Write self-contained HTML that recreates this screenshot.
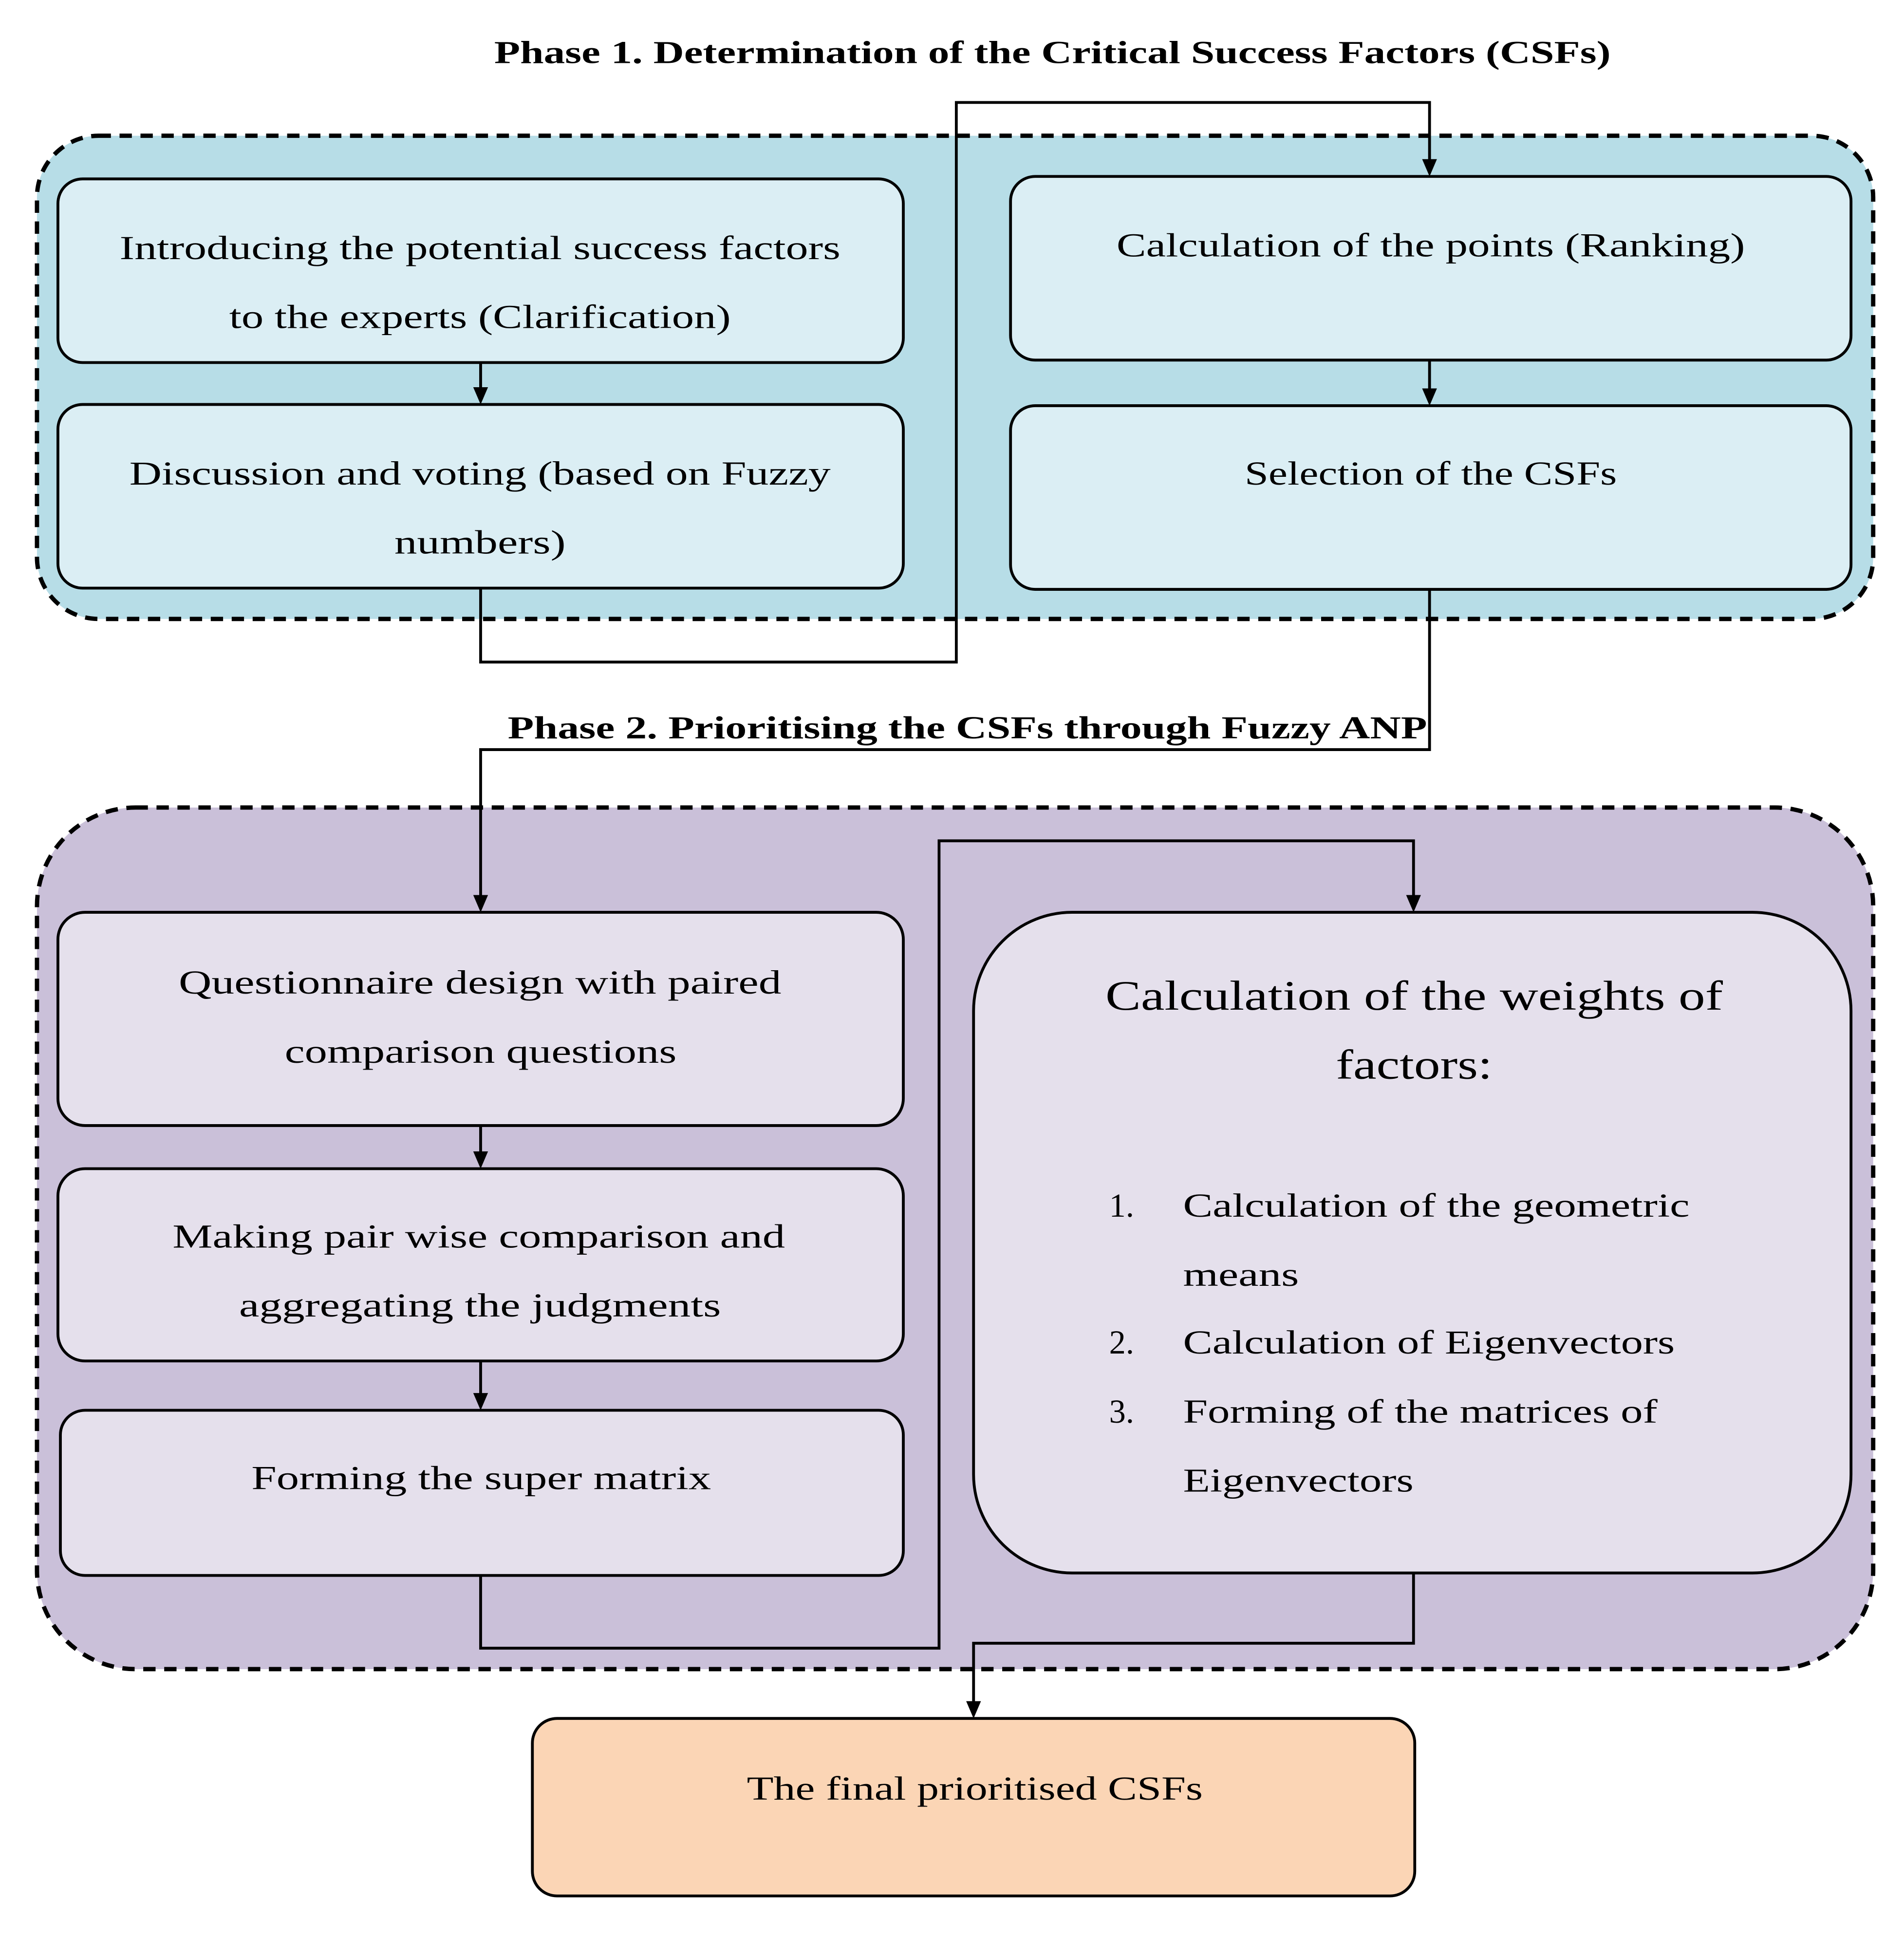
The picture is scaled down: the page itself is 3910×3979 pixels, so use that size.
<!DOCTYPE html>
<html><head><meta charset="utf-8"><style>html,body{margin:0;padding:0;background:#fff}svg{display:block}</style></head>
<body>
<svg width="3910" height="3979" viewBox="0 0 1545 1572" xmlns="http://www.w3.org/2000/svg">
<style>
text{font-family:"Liberation Serif",serif;font-size:27px;fill:#000}
.b{font-weight:bold;font-size:26px}
.box{stroke:#000;stroke-width:2.3}
.ln{fill:none;stroke:#000;stroke-width:2.3}
</style>
<rect x="30" y="110" width="1490" height="392" rx="50" fill="#b7dde7" stroke="#000" stroke-width="3.5" stroke-dasharray="10,7"/>
<rect x="30" y="655" width="1490" height="699" rx="80" fill="#cac0d9" stroke="#000" stroke-width="3.5" stroke-dasharray="10,7"/>

<rect class="box" x="47" y="145" width="686" height="149" rx="20" fill="#dbeef4"/>
<rect class="box" x="47" y="328" width="686" height="149" rx="20" fill="#dbeef4"/>
<rect class="box" x="820" y="143" width="682" height="149" rx="20" fill="#dbeef4"/>
<rect class="box" x="820" y="329" width="682" height="149" rx="20" fill="#dbeef4"/>

<rect class="box" x="47" y="740" width="686" height="173" rx="22" fill="#e5e0ec"/>
<rect class="box" x="47" y="948" width="686" height="156" rx="22" fill="#e5e0ec"/>
<rect class="box" x="49" y="1144" width="684" height="134" rx="20" fill="#e5e0ec"/>
<rect class="box" x="790" y="740" width="712" height="536" rx="80" fill="#e5e0ec"/>
<rect class="box" x="432" y="1394" width="716" height="144" rx="20" fill="#fbd5b5"/>

<path class="ln" d="M390,294 V316"/><path d="M384,314 L396,314 L390,328 Z"/>
<path class="ln" d="M1160,292 V316"/><path d="M1154,315 L1166,315 L1160,329 Z"/>
<path class="ln" d="M390,477 V537 H776 V83 H1160 V131"/><path d="M1154,129 L1166,129 L1160,143 Z"/>
<path class="ln" d="M1160,478 V608 H390 V728"/><path d="M384,726 L396,726 L390,740 Z"/>
<path class="ln" d="M390,913 V936"/><path d="M384,934 L396,934 L390,948 Z"/>
<path class="ln" d="M390,1104 V1132"/><path d="M384,1130 L396,1130 L390,1144 Z"/>
<path class="ln" d="M390,1278 V1337 H762 V682 H1147 V728"/><path d="M1141,726 L1153,726 L1147,740 Z"/>
<path class="ln" d="M1147,1276 V1333 H790 V1382"/><path d="M784,1380 L796,1380 L790,1394 Z"/>

<text class="b" x="401" y="51" textLength="906" lengthAdjust="spacingAndGlyphs">Phase 1. Determination of the Critical Success Factors (CSFs)</text>
<text class="b" x="412" y="599" textLength="746" lengthAdjust="spacingAndGlyphs">Phase 2. Prioritising the CSFs through Fuzzy ANP</text>

<text x="97" y="210" textLength="585" lengthAdjust="spacingAndGlyphs">Introducing the potential success factors</text>
<text x="186" y="266" textLength="407" lengthAdjust="spacingAndGlyphs">to the experts (Clarification)</text>
<text x="105" y="393" textLength="569" lengthAdjust="spacingAndGlyphs">Discussion and voting (based on Fuzzy</text>
<text x="320" y="449" textLength="139" lengthAdjust="spacingAndGlyphs">numbers)</text>
<text x="906" y="208" textLength="510" lengthAdjust="spacingAndGlyphs">Calculation of the points (Ranking)</text>
<text x="1010" y="393" textLength="302" lengthAdjust="spacingAndGlyphs">Selection of the CSFs</text>

<text x="145" y="806" textLength="489" lengthAdjust="spacingAndGlyphs">Questionnaire design with paired</text>
<text x="231" y="862" textLength="318" lengthAdjust="spacingAndGlyphs">comparison questions</text>
<text x="140" y="1012" textLength="497" lengthAdjust="spacingAndGlyphs">Making pair wise comparison and</text>
<text x="194" y="1068" textLength="391" lengthAdjust="spacingAndGlyphs">aggregating the judgments</text>
<text x="204" y="1208" textLength="373" lengthAdjust="spacingAndGlyphs">Forming the super matrix</text>

<text x="897" y="819" style="font-size:34px" textLength="501" lengthAdjust="spacingAndGlyphs">Calculation of the weights of</text>
<text x="1084" y="875" style="font-size:34px" textLength="127" lengthAdjust="spacingAndGlyphs">factors:</text>
<text x="900" y="987">1.</text>
<text x="960" y="987" textLength="411" lengthAdjust="spacingAndGlyphs">Calculation of the geometric</text>
<text x="960" y="1043" textLength="94" lengthAdjust="spacingAndGlyphs">means</text>
<text x="900" y="1098">2.</text>
<text x="960" y="1098" textLength="399" lengthAdjust="spacingAndGlyphs">Calculation of Eigenvectors</text>
<text x="900" y="1154">3.</text>
<text x="960" y="1154" textLength="385" lengthAdjust="spacingAndGlyphs">Forming of the matrices of</text>
<text x="960" y="1210" textLength="187" lengthAdjust="spacingAndGlyphs">Eigenvectors</text>

<text x="606" y="1460" textLength="370" lengthAdjust="spacingAndGlyphs">The final prioritised CSFs</text>
</svg>
</body></html>
